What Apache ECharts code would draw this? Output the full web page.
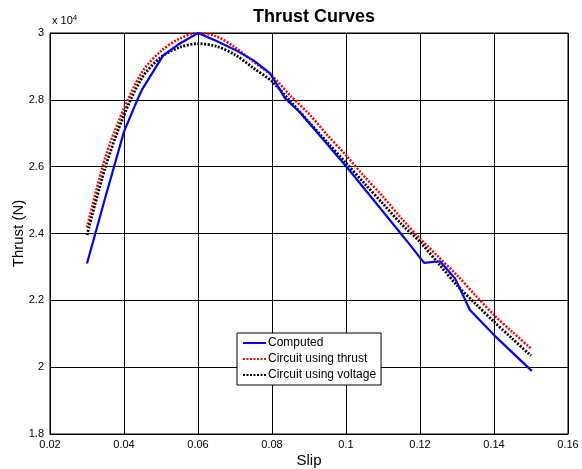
<!DOCTYPE html>
<html>
<head>
<meta charset="utf-8">
<script src="https://cdn.jsdelivr.net/npm/echarts@6/dist/echarts.min.js"></script>
<style>
  html, body { margin: 0; padding: 0; background: #fff; }
  #chart { width: 582px; height: 469px; }
</style>
</head>
<body>
<div id="chart"></div>
<script>
// slip values and thrust (N)
var computed = [
    [0.03, 23100], [0.035, 25100], [0.04, 27050], [0.0436, 28000], [0.045, 28330],
    [0.0506, 29330], [0.055, 29680], [0.06, 30000], [0.065, 29760], [0.0703, 29480],
    [0.075, 29180], [0.0795, 28790], [0.0835, 28050], [0.0876, 27620], [0.1002, 25990],
    [0.1137, 24150], [0.1173, 23660], [0.1211, 23120], [0.1254, 23170], [0.1295, 22650],
    [0.1335, 21710], [0.14, 20960], [0.1502, 19890]
];
var slip = [0.03, 0.035, 0.04, 0.045, 0.05, 0.055, 0.06, 0.065, 0.07, 0.075, 0.08, 0.085, 0.09,
    0.095, 0.1, 0.105, 0.11, 0.115, 0.12, 0.125, 0.13, 0.135, 0.14, 0.145, 0.15];
var circuitThrust = [24180, 26300, 27740, 28850, 29460, 29830, 30000, 29900, 29570, 29140, 28720, 28120, 27580,
    26940, 26340, 25700, 25100, 24450, 23850, 23300, 22750, 22150, 21560, 21050, 20560];
var circuitVoltage = [23950, 26000, 27540, 28680, 29280, 29570, 29680, 29600, 29350, 28950, 28550, 27950, 27330,
    26720, 26110, 25500, 24890, 24280, 23750, 23100, 22450, 21900, 21360, 20850, 20340];
var xTicks = { min: 0.02, max: 0.16, step: 0.02 };
var yTicks = { min: 18000, max: 30000, step: 2000 };

function pairs(xs, ys) {
    return xs.map(function (x, i) { return [x, ys[i]]; });
}

var font = 'Liberation Sans, Arial, sans-serif';
var chart = echarts.init(document.getElementById('chart'));
chart.setOption({
    backgroundColor: '#fff',
    animation: false,
    title: {
        text: 'Thrust Curves',
        left: 309,
        top: 3,
        textAlign: 'center',
        textStyle: { fontFamily: font, fontSize: 18, fontWeight: 'bold', color: '#000' }
    },
    grid: {
        left: 50, right: 14, top: 33, bottom: 35,
        outerBoundsMode: 'none',
        containLabel: false,
        show: true, borderColor: '#000', borderWidth: 1
    },
    legend: {
        orient: 'vertical',
        left: 237,
        top: 333,
        itemWidth: 23,
        itemHeight: 8,
        itemGap: 4,
        padding: [4, 5, 4, 5],
        borderColor: '#000',
        borderWidth: 1,
        backgroundColor: '#fff',
        itemStyle: { opacity: 0 },
        textStyle: { fontFamily: font, fontSize: 12, color: '#000', padding: [0, 0, 0, -3] },
        data: ['Computed', 'Circuit using thrust', 'Circuit using voltage']
    },
    xAxis: {
        type: 'value',
        min: xTicks.min, max: xTicks.max, interval: xTicks.step,
        name: 'Slip',
        nameLocation: 'middle',
        nameGap: 19,
        nameMoveOverlap: false,
        nameTextStyle: { fontFamily: font, fontSize: 15, color: '#000' },
        axisLine: { lineStyle: { color: '#000', width: 1 } },
        axisTick: { show: false },
        axisLabel: {
            fontFamily: font, fontSize: 11, color: '#000', margin: 5,
            formatter: function (v) { return String(parseFloat(v.toFixed(2))); }
        },
        splitLine: { lineStyle: { color: '#000', width: 1 } }
    },
    yAxis: {
        type: 'value',
        min: yTicks.min, max: yTicks.max, interval: yTicks.step,
        name: 'Thrust (N)',
        nameLocation: 'middle',
        nameGap: 24,
        nameMoveOverlap: false,
        nameTextStyle: { fontFamily: font, fontSize: 15, color: '#000' },
        axisLine: { show: true, lineStyle: { color: '#000', width: 1 } },
        axisTick: { show: false },
        axisLabel: {
            fontFamily: font, fontSize: 11, color: '#000', margin: 6,
            formatter: function (v) { return String(parseFloat((v / 10000).toFixed(1))); }
        },
        splitLine: { lineStyle: { color: '#000', width: 1 } }
    },
    graphic: [{
        type: 'text',
        left: 52,
        top: 14,
        style: {
            text: 'x 10{s|4}',
            font: '11px ' + font,
            fill: '#000',
            rich: { s: { fontSize: 8, fontFamily: font, verticalAlign: 'top', padding: [0, 0, 6, 0] } }
        }
    }],
    series: [{
        name: 'Computed',
        type: 'line',
        symbol: 'none',
        data: computed,
        lineStyle: { color: '#0000ff', width: 2.2 },
        itemStyle: { color: '#0000ff' },
        z: 4
    }, {
        name: 'Circuit using thrust',
        type: 'line',
        symbol: 'none',
        smooth: 0.3,
        data: pairs(slip, circuitThrust),
        lineStyle: { color: '#ff0000', width: 2.5, type: [2, 1.5] },
        itemStyle: { color: '#ff0000' },
        z: 3
    }, {
        name: 'Circuit using voltage',
        type: 'line',
        symbol: 'none',
        smooth: 0.3,
        data: pairs(slip, circuitVoltage),
        lineStyle: { color: '#000', width: 2.8, type: [2, 1.5] },
        itemStyle: { color: '#000' },
        z: 3
    }]
});
</script>
</body>
</html>
